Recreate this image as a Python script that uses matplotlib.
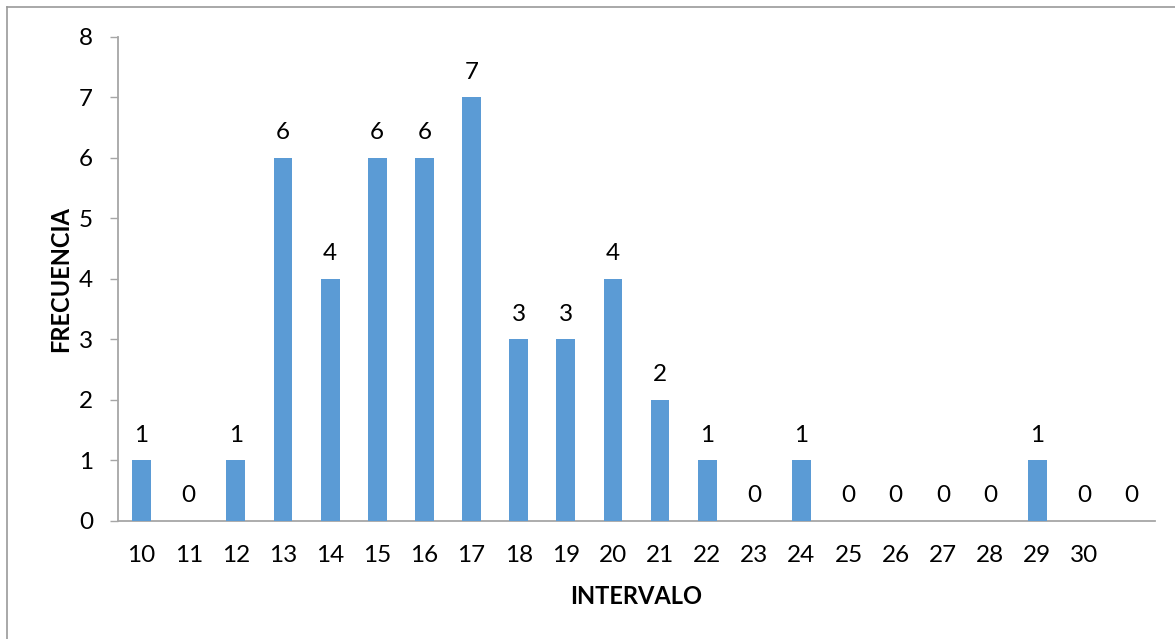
import matplotlib.pyplot as plt
from matplotlib.lines import Line2D

# Frequency table by interval (last class has no label)
intervals = ["10", "11", "12", "13", "14", "15", "16", "17", "18", "19", "20",
             "21", "22", "23", "24", "25", "26", "27", "28", "29", "30", ""]
frequencies = [1, 0, 1, 6, 4, 6, 6, 7, 3, 3, 4, 2, 1, 0, 1, 0, 0, 0, 0, 1, 0, 0]

plt.rcParams["font.family"] = ["Lato", "DejaVu Sans"]

fig = plt.figure(figsize=(11.75, 6.39), dpi=100, facecolor="white")
ax = fig.add_axes([0.1004, 0.1847, 0.8826, 0.7574])

bar_color = "#5B9BD5"
axis_color = "#A6A6A6"

x = range(len(frequencies))
ax.bar(x, frequencies, width=0.4, color=bar_color, zorder=3)

# value labels above each bar
for xi, v in zip(x, frequencies):
    ax.annotate(str(v), (xi, v), xytext=(0, 18), textcoords="offset points",
                ha="center", va="center", fontsize=17.5, color="black")

ax.set_xlim(-0.5, len(frequencies) - 0.5)
ax.set_ylim(0, 8)
ax.set_yticks(range(0, 9))
ax.set_xticks(list(x))
ax.set_xticklabels(intervals)

ax.tick_params(axis="y", length=6, width=1, color=axis_color, pad=12, labelsize=17.5)
ax.tick_params(axis="x", length=0, pad=17, labelsize=17.5)

for side in ("top", "right"):
    ax.spines[side].set_visible(False)
for side in ("left", "bottom"):
    ax.spines[side].set_color(axis_color)
    ax.spines[side].set_linewidth(1.3)

ax.set_xlabel("INTERVALO", fontsize=17, fontweight="bold", labelpad=14)
ax.set_ylabel("FRECUENCIA", fontsize=17, fontweight="bold", labelpad=5)

# chart frame lines along top and left edges
fig.add_artist(Line2D([7 / 1175, 1], [1 - 7 / 639, 1 - 7 / 639],
                      transform=fig.transFigure, color="#9a9a9a", linewidth=1.2))
fig.add_artist(Line2D([7 / 1175, 7 / 1175], [0, 1 - 7 / 639],
                      transform=fig.transFigure, color="#9a9a9a", linewidth=1.2))

fig.savefig("out.png", dpi=100, facecolor="white")
